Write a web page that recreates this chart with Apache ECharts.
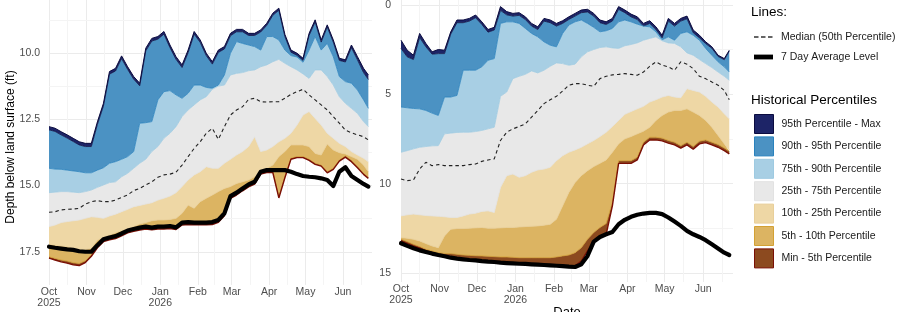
<!DOCTYPE html>
<html>
<head>
<meta charset="utf-8">
<script src="https://cdn.jsdelivr.net/npm/echarts@6/dist/echarts.min.js"></script>
<style>
  html, body { margin: 0; padding: 0; background: #fff; }
  #chart { width: 900px; height: 312px; }
</style>
</head>
<body>
<div id="chart"></div>
<script>
// sample dates shared by both panels
const days = ['2025-10-01','2025-10-06','2025-10-11','2025-10-16','2025-10-21','2025-10-26','2025-10-31','2025-11-05','2025-11-10','2025-11-15','2025-11-20','2025-11-25','2025-11-30','2025-12-05','2025-12-10','2025-12-15','2025-12-20','2025-12-25','2025-12-30','2026-01-04','2026-01-09','2026-01-14','2026-01-19','2026-01-24','2026-01-29','2026-02-03','2026-02-08','2026-02-13','2026-02-18','2026-02-23','2026-02-28','2026-03-05','2026-03-10','2026-03-15','2026-03-20','2026-03-25','2026-03-30','2026-04-04','2026-04-09','2026-04-14','2026-04-19','2026-04-24','2026-04-29','2026-05-04','2026-05-09','2026-05-14','2026-05-19','2026-05-24','2026-05-29','2026-06-03','2026-06-08','2026-06-13','2026-06-18','2026-06-22'];

// left well (ft below land surface)
const leftMax = [12.78,12.84,12.97,13.09,13.22,13.35,13.41,13.41,12.60,11.90,10.70,10.58,10.11,10.52,10.89,11.14,9.82,9.45,9.38,9.19,9.70,10.14,10.45,9.89,9.19,9.51,10.01,10.33,9.89,9.76,9.26,9.11,9.11,9.26,9.26,9.13,8.88,8.50,8.31,9.30,9.89,10.01,10.20,9.26,8.75,9.51,8.94,9.51,10.20,10.26,9.70,10.14,10.58,10.83];
const leftP95 = [12.90,12.96,13.09,13.21,13.34,13.47,13.53,13.53,12.70,12.00,10.80,10.68,10.21,10.62,10.99,11.24,9.92,9.55,9.48,9.29,9.80,10.24,10.55,9.99,9.29,9.60,10.10,10.42,9.98,9.85,9.35,9.20,9.20,9.34,9.34,9.21,8.96,8.58,8.39,9.38,9.97,10.09,10.28,9.34,8.83,9.59,9.02,9.59,10.28,10.34,9.80,10.26,10.74,11.00];
const leftP90 = [14.35,14.38,14.39,14.42,14.45,14.48,14.52,14.52,14.42,14.33,14.16,14.10,14.01,13.91,13.72,12.65,12.63,12.59,11.77,11.46,11.42,11.58,11.71,11.52,11.21,11.21,11.30,11.33,11.21,10.83,10.01,9.57,9.64,9.70,9.76,9.89,9.38,9.38,9.51,9.89,10.10,10.15,10.35,9.89,9.38,9.89,9.64,10.14,10.89,11.08,11.14,11.40,11.77,12.09];
const leftP75 = [15.27,15.25,15.23,15.23,15.25,15.27,15.23,15.17,15.07,14.98,14.89,14.86,14.67,14.54,14.35,14.16,14.01,13.72,13.53,13.22,13.03,12.78,12.40,12.15,11.96,11.77,11.65,11.37,11.25,11.21,10.83,10.77,10.74,10.67,10.64,10.52,10.45,10.33,10.24,10.39,10.52,10.64,10.79,10.96,10.64,10.64,10.89,11.21,11.65,11.90,12.09,12.28,12.59,12.78];
const leftMedian = [16.01,15.99,15.92,15.90,15.89,15.86,15.70,15.61,15.57,15.61,15.61,15.55,15.45,15.36,15.19,15.11,14.98,14.86,14.69,14.60,14.57,14.50,14.23,13.91,13.60,13.35,13.03,12.84,13.26,12.78,12.34,12.15,12.03,11.75,11.71,11.84,11.85,11.84,11.84,11.71,11.56,11.46,11.37,11.58,11.77,11.96,12.15,12.40,12.65,12.91,13.01,13.09,13.16,13.28];
const leftP25 = [16.55,16.49,16.40,16.36,16.33,16.30,16.24,16.18,16.20,16.24,16.15,16.08,15.99,15.90,15.80,15.75,15.70,15.65,15.55,15.48,15.40,15.27,15.04,14.79,14.60,14.48,14.29,14.35,14.35,14.16,14.01,13.85,13.72,13.53,13.16,13.72,13.66,13.53,13.35,13.22,13.03,12.72,12.34,12.21,12.47,12.72,13.03,13.22,13.41,13.53,13.72,13.85,13.97,14.10];
const leftP10 = [17.22,17.25,17.28,17.31,17.37,17.41,17.41,17.37,17.06,16.96,16.87,16.78,16.70,16.65,16.55,16.45,16.40,16.33,16.30,16.30,16.28,16.24,16.05,15.74,15.86,15.61,15.48,15.36,15.23,15.11,15.04,14.92,14.86,14.79,14.67,14.45,14.35,14.23,13.91,13.72,13.47,13.47,13.47,13.53,13.79,13.85,13.43,13.66,13.76,13.81,13.91,14.01,14.23,14.48];
const leftP5 = [17.69,17.75,17.81,17.85,17.91,17.94,17.84,17.62,17.31,17.08,17.01,16.96,16.86,16.75,16.69,16.64,16.60,16.63,16.60,16.60,16.58,16.62,16.45,16.43,16.44,16.44,16.44,16.43,16.35,16.10,15.45,15.32,15.16,15.01,14.91,14.53,14.47,14.47,15.42,14.67,13.97,13.91,13.91,14.01,14.16,14.23,14.48,14.35,14.04,13.89,14.06,14.29,14.54,14.69];
const leftMin = [17.74,17.81,17.88,17.93,17.99,18.02,17.91,17.67,17.35,17.12,17.05,17.00,16.90,16.79,16.73,16.68,16.64,16.67,16.64,16.64,16.62,16.66,16.49,16.47,16.48,16.48,16.48,16.47,16.39,16.14,15.49,15.36,15.20,15.05,14.95,14.57,14.51,14.51,15.47,14.71,14.01,13.95,13.95,14.05,14.20,14.27,14.52,14.39,14.08,13.93,14.10,14.33,14.58,14.73];
const leftAvg7 = [17.31,17.35,17.38,17.41,17.43,17.48,17.50,17.50,17.25,17.03,16.96,16.91,16.81,16.70,16.64,16.59,16.55,16.59,16.55,16.55,16.53,16.58,16.40,16.38,16.40,16.40,16.40,16.38,16.30,16.05,15.40,15.27,15.11,14.96,14.86,14.48,14.42,14.42,14.42,14.42,14.48,14.57,14.64,14.67,14.69,14.73,14.79,15.02,14.48,14.31,14.64,14.79,14.94,15.04];

// right well
const rightMax = [1.97,2.53,2.81,1.59,2.15,2.62,2.49,2.53,1.50,0.84,0.84,0.75,0.56,0.94,1.37,1.25,0.09,0.37,0.47,0.43,0.66,1.03,1.22,0.75,0.84,1.03,0.88,0.66,0.47,0.28,0.24,0.47,0.84,0.94,0.75,0.09,0.28,0.51,0.66,1.03,0.88,1.22,1.69,0.75,1.03,0.75,0.62,1.40,1.69,2.06,2.34,2.81,3.00,2.53];
const rightP95 = [2.43,2.90,3.05,1.82,2.34,2.75,2.72,2.72,1.63,0.99,0.99,0.90,0.71,1.09,1.52,1.40,0.30,0.55,0.62,0.58,0.81,1.18,1.37,0.90,0.99,1.18,1.03,0.81,0.62,0.43,0.39,0.62,0.99,1.09,0.90,0.24,0.43,0.66,0.81,1.18,1.03,1.37,1.84,0.90,1.18,0.90,0.77,1.55,1.84,2.16,2.42,2.88,3.06,2.58];
const rightP90 = [5.71,5.75,5.79,5.81,5.90,6.05,6.18,5.15,5.15,5.06,3.65,3.65,3.65,3.46,3.09,3.00,1.03,0.94,0.94,1.03,1.31,1.59,1.78,2.06,2.25,2.34,1.59,1.12,0.94,0.84,1.03,1.25,1.50,1.44,1.31,0.94,0.84,0.94,1.07,1.18,1.22,1.50,1.95,1.78,1.97,1.59,1.50,1.69,1.97,2.43,2.81,3.18,3.46,3.75];
const rightP75 = [8.24,8.15,8.05,7.96,7.92,7.88,7.87,7.21,7.17,7.13,7.12,7.12,7.08,7.02,6.93,6.84,5.11,4.87,4.12,3.99,3.88,3.69,3.80,3.65,3.43,3.24,3.28,3.37,3.31,2.90,2.62,2.49,2.38,2.34,2.40,2.43,2.28,2.21,2.12,1.97,1.87,1.78,2.00,2.12,2.15,2.34,2.68,2.81,3.05,3.28,3.50,3.75,3.99,4.21];
const rightMedian = [9.74,9.83,9.79,9.18,8.80,8.99,8.93,8.99,8.99,8.99,8.99,8.93,8.90,8.75,8.67,8.61,7.58,7.12,6.93,6.80,6.65,6.27,5.90,5.52,5.30,5.11,4.81,4.49,4.40,4.40,4.49,4.55,4.12,3.99,3.91,3.88,3.84,3.88,3.93,3.75,3.43,3.18,3.37,3.46,3.65,3.18,3.31,3.56,3.99,4.12,4.31,4.49,4.78,5.30];
const rightP25 = [11.80,11.74,11.70,11.74,11.78,11.80,11.82,11.85,11.89,11.89,11.80,11.70,11.65,11.55,11.52,11.61,10.21,9.55,9.46,9.64,9.55,9.36,9.23,9.18,9.08,8.71,8.43,8.24,8.11,7.96,7.77,7.58,7.36,7.12,6.80,6.46,6.12,5.96,5.81,5.67,5.43,5.30,5.15,5.06,5.15,5.19,4.68,4.78,4.87,5.11,5.43,5.71,6.09,6.37];
const rightP10 = [13.01,13.05,13.11,13.20,13.35,13.48,13.58,12.92,12.55,12.51,12.51,12.49,12.47,12.45,12.49,12.49,12.47,12.45,12.45,12.42,12.40,12.38,12.36,12.32,12.27,11.99,11.24,10.49,9.93,9.55,9.27,9.04,8.86,8.67,8.24,7.77,7.49,7.36,7.21,7.06,6.84,6.46,6.18,5.99,5.90,5.90,5.81,5.99,6.18,6.46,6.84,7.30,7.77,8.11];
const rightP5 = [13.11,13.24,13.39,13.52,13.67,13.76,13.86,13.90,13.91,13.95,13.99,14.01,14.03,14.04,14.06,14.08,14.10,14.10,14.12,14.14,14.14,14.14,14.14,14.14,14.14,14.10,14.04,13.99,13.86,13.58,13.11,12.73,12.45,12.23,11.05,8.71,8.71,8.71,8.52,7.68,7.40,7.40,7.45,7.58,7.68,7.87,7.68,7.92,7.62,7.55,7.68,7.81,8.00,8.18];
const rightMin = [13.20,13.35,13.50,13.61,13.76,13.88,13.97,14.04,14.10,14.16,14.21,14.25,14.29,14.33,14.36,14.38,14.42,14.44,14.46,14.48,14.49,14.51,14.53,14.55,14.57,14.59,14.61,14.63,14.59,14.33,13.76,13.24,12.98,12.83,11.24,8.86,8.86,8.86,8.67,7.83,7.55,7.55,7.60,7.73,7.83,8.01,7.83,8.07,7.77,7.70,7.83,7.96,8.15,8.33];
const rightAvg7 = [13.33,13.48,13.61,13.73,13.82,13.91,13.99,14.06,14.14,14.19,14.23,14.27,14.29,14.33,14.36,14.38,14.42,14.44,14.46,14.48,14.49,14.51,14.53,14.55,14.57,14.59,14.61,14.64,14.66,14.51,14.04,13.24,12.98,12.83,12.70,12.27,12.02,11.85,11.74,11.67,11.63,11.63,11.70,11.89,12.12,12.36,12.64,12.83,12.98,13.16,13.39,13.63,13.86,13.99];

// grid breaks
const minorDates = ['2025-10-16','2025-11-16','2025-12-16','2026-01-16','2026-02-15','2026-03-16','2026-04-16','2026-05-16','2026-06-16'];
const leftMinorY = [8.75, 11.25, 13.75, 16.25];
const rightMinorY = [2.5, 7.5, 12.5];
const monthNames = ['Jan','Feb','Mar','Apr','May','Jun','Jul','Aug','Sep','Oct','Nov','Dec'];

const bandNames = ['95th Percentile - Max', '90th - 95th Percentile', '75th - 90th Percentile', '25th - 75th Percentile', '10th - 25th Percentile', '5th - 10th Percentile', 'Min - 5th Percentile'];
const bandFill = ['#1d2467', '#4b92c3', '#a8cfe4', '#e8e8e8', '#eed7a5', '#dcb462', '#8c4a1f'];
const bandEdge = ['#0b0c40', '#2a82bd', '#9ecae1', '#e2e2e2', '#e8cf9a', '#d3a134', '#7a0f05'];

const FONT = 'Liberation Sans, Arial, Helvetica, sans-serif';
const dashIcon = 'path://M0,0M0,5.3h4.5v1.4h-4.5zM7,5.3h4.5v1.4h-4.5zM14,5.3h4.5v1.4h-4.5zM19,12';
const solidIcon = 'path://M0,0M0,3.6h19v4.8h-19zM19,12';

function ts(s) {
  const p = s.split('-');
  return new Date(+p[0], +p[1] - 1, +p[2]).getTime();
}

function monthLabel(value) {
  const d = new Date(value);
  const m = d.getMonth();
  let s = monthNames[m];
  if (m === 0 || (m === 9 && d.getFullYear() === 2025)) s += '\n' + d.getFullYear();
  return s;
}

function panelSeries(idx, bounds, median, avg, minorY) {
  const stack = 'bands' + idx;
  const out = [];
  // light minor grid lines, kept under the bands
  out.push({
    type: 'line', xAxisIndex: idx, yAxisIndex: idx, data: [], silent: true, z: 1,
    markLine: {
      z: 1, silent: true, symbol: ['none', 'none'], animation: false, label: { show: false },
      lineStyle: { color: '#f4f4f4', width: 1, type: 'solid' },
      emphasis: { disabled: true },
      data: minorDates.map(d => ({ xAxis: ts(d) })).concat(minorY.map(v => ({ yAxis: v })))
    }
  });
  // base line at the max level, no fill
  out.push({
    type: 'line', name: '_base' + idx, xAxisIndex: idx, yAxisIndex: idx,
    stack: stack, stackStrategy: 'all', symbol: 'none', silent: true, z: 2,
    lineStyle: { color: bandEdge[0], width: 1 },
    emphasis: { disabled: true },
    data: days.map((d, i) => [d, bounds[0][i]])
  });
  for (let k = 0; k < 7; k++) {
    out.push({
      type: 'line', name: bandNames[k], xAxisIndex: idx, yAxisIndex: idx,
      stack: stack, stackStrategy: 'all', symbol: 'none', silent: true, z: 2,
      lineStyle: { color: bandEdge[k], width: k === 6 ? 1.4 : 0.8 },
      itemStyle: { color: bandFill[k] },
      areaStyle: { color: bandFill[k], opacity: 1 },
      emphasis: { disabled: true },
      data: days.map((d, i) => [d, Math.max(0, +(bounds[k + 1][i] - bounds[k][i]).toFixed(3))])
    });
  }
  out.push({
    type: 'line', name: 'Median (50th Percentile)', xAxisIndex: idx, yAxisIndex: idx,
    symbol: 'none', silent: true, z: 3, color: '#222',
    lineStyle: { color: '#222', width: 1.1, type: [3.5, 3] },
    emphasis: { disabled: true },
    data: days.map((d, i) => [d, median[i]])
  });
  out.push({
    type: 'line', name: '7 Day Average Level', xAxisIndex: idx, yAxisIndex: idx,
    symbol: 'none', silent: true, z: 4, color: '#000',
    lineStyle: { color: '#000', width: 4.2, cap: 'round', join: 'round' },
    emphasis: { disabled: true },
    data: days.map((d, i) => [d, avg[i]])
  });
  return out;
}

function xAxisFor(idx) {
  return {
    gridIndex: idx, type: 'time',
    min: ts('2025-10-01'), max: ts('2026-06-25'),
    minInterval: 28 * 86400000, maxInterval: 31 * 86400000,
    axisLine: { show: false }, axisTick: { show: false },
    axisLabel: {
      formatter: monthLabel, color: '#4d4d4d', fontSize: 10.5, lineHeight: 11.5,
      margin: 1, showMaxLabel: false, hideOverlap: false, fontFamily: FONT
    },
    splitLine: { show: true, showMaxLine: false, lineStyle: { color: '#ebebeb', width: 1 } }
  };
}

const chart = echarts.init(document.getElementById('chart'), null, { renderer: 'canvas' });

const option = {
  animation: false,
  backgroundColor: '#ffffff',
  textStyle: { fontFamily: FONT },
  grid: [
    { left: 49, top: -13.3, width: 323, height: 298.2, outerBoundsMode: 'none', containLabel: false },
    { left: 401, top: -84.35, width: 332, height: 366.35, outerBoundsMode: 'none', containLabel: false }
  ],
  xAxis: [xAxisFor(0), xAxisFor(1)],
  yAxis: [
    {
      gridIndex: 0, type: 'value', inverse: true, min: 7.5, max: 18.75, interval: 2.5,
      axisLine: { show: false }, axisTick: { show: false },
      axisLabel: { color: '#4d4d4d', fontSize: 10.5, margin: 9, showMinLabel: false, showMaxLabel: false,
        formatter: v => v.toFixed(1), fontFamily: FONT },
      splitLine: { show: true, showMinLine: false, showMaxLine: false, lineStyle: { color: '#ebebeb', width: 1 } }
    },
    {
      gridIndex: 1, type: 'value', inverse: true, min: -5, max: 15.5, interval: 5,
      axisLine: { show: false }, axisTick: { show: false },
      axisLabel: { color: '#4d4d4d', fontSize: 10.5, margin: 10, showMinLabel: false, showMaxLabel: false,
        formatter: v => String(v), fontFamily: FONT },
      splitLine: { show: true, showMinLine: false, showMaxLine: false, lineStyle: { color: '#ebebeb', width: 1 } }
    }
  ],
  title: [
    { text: 'Lines:', left: 751, top: 5, padding: 0,
      textStyle: { fontSize: 13.5, fontWeight: 'normal', color: '#000', fontFamily: FONT } },
    { text: 'Historical Percentiles', left: 751, top: 93, padding: 0,
      textStyle: { fontSize: 13.5, fontWeight: 'normal', color: '#000', fontFamily: FONT } }
  ],
  legend: [
    {
      orient: 'vertical', left: 754, top: 31, padding: 0, itemWidth: 19, itemHeight: 12, itemGap: 8,
      selectedMode: false,
      textStyle: { fontSize: 10.5, color: '#1a1a1a', padding: [0, 0, 0, 3], fontFamily: FONT },
      data: [
        { name: 'Median (50th Percentile)', icon: dashIcon, itemStyle: { color: '#333', borderWidth: 0 } },
        { name: '7 Day Average Level', icon: solidIcon, itemStyle: { color: '#000', borderWidth: 0 } }
      ]
    },
    {
      orient: 'vertical', left: 754, top: 114, padding: 0, itemWidth: 19, itemHeight: 19, itemGap: 2.4,
      selectedMode: false,
      textStyle: { fontSize: 10.5, color: '#1a1a1a', padding: [0, 0, 0, 3], fontFamily: FONT },
      data: bandNames.map((n, k) => ({
        name: n, icon: 'rect',
        itemStyle: { color: bandFill[k], borderColor: bandEdge[k], borderWidth: 1 }
      }))
    }
  ],
  graphic: [
    {
      type: 'text', x: 11, y: 147, rotation: Math.PI / 2, silent: true,
      style: { text: 'Depth below land surface (ft)', fontSize: 12, fill: '#000', fontFamily: FONT,
        textAlign: 'center', textVerticalAlign: 'middle' }
    },
    {
      // x-axis title of the right panel, cut off by the bottom edge
      type: 'text', x: 567, y: 306, silent: true,
      style: { text: 'Date', fontSize: 13, fill: '#000', fontFamily: FONT,
        textAlign: 'center', textVerticalAlign: 'top' }
    }
  ],
  series: []
    .concat(panelSeries(0, [leftMax, leftP95, leftP90, leftP75, leftP25, leftP10, leftP5, leftMin], leftMedian, leftAvg7, leftMinorY))
    .concat(panelSeries(1, [rightMax, rightP95, rightP90, rightP75, rightP25, rightP10, rightP5, rightMin], rightMedian, rightAvg7, rightMinorY))
};

chart.setOption(option);
</script>
</body>
</html>
